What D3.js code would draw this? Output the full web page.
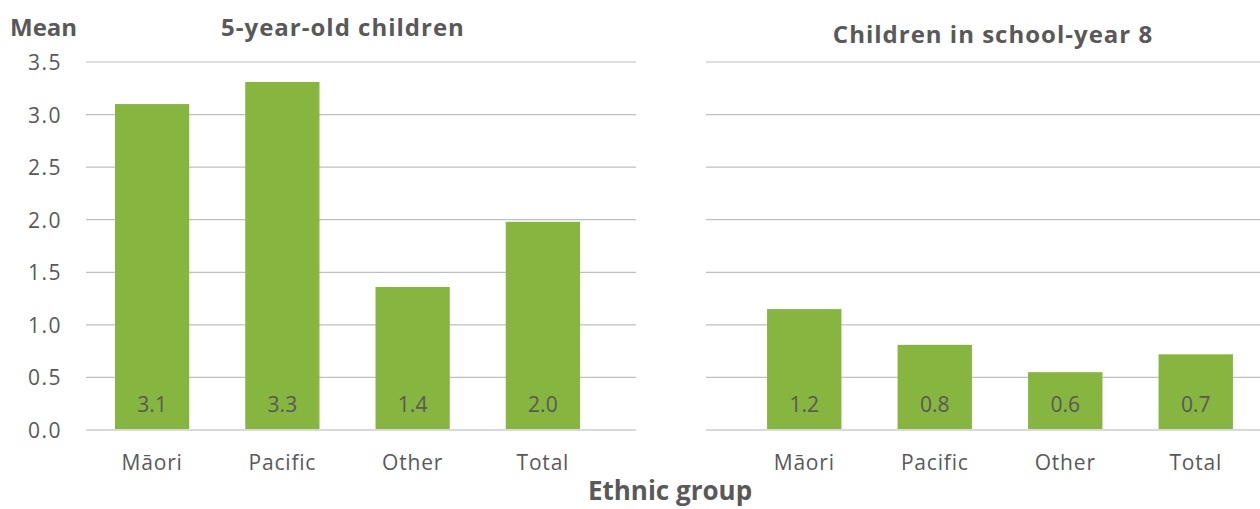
<!DOCTYPE html>
<html><head><meta charset="utf-8">
<script src="https://cdn.jsdelivr.net/npm/d3@7"></script>
<style>body{margin:0;background:#fff}text{font-family:"Open Sans","Noto Sans",sans-serif;fill:#595959}</style>
</head><body><svg id="c" width="1260" height="509"></svg>
<script>
const categories = ["Māori","Pacific","Other","Total"];
const fiveYearValues = [3.10, 3.31, 1.36, 1.98];
const fiveYearLabels = ["3.1","3.3","1.4","2.0"];
const year8Values = [1.15, 0.81, 0.55, 0.72];
const year8Labels = ["1.2","0.8","0.6","0.7"];
const yTicks = [0,0.5,1,1.5,2,2.5,3,3.5];
const panelTitles = ["5-year-old children","Children in school-year 8"];

const svg = d3.select("#c");
const y = d3.scaleLinear().domain([0,3.5]).range([430,62]);
const green = "#86b540";

const panels = [
  {values: fiveYearValues, labels: fiveYearLabels, gx:[86,636], band:[87,608], title: panelTitles[0], tx:343, ty:26, axis:true},
  {values: year8Values, labels: year8Labels, gx:[706,1260], band:[739,1261], title: panelTitles[1], tx:993, ty:33, axis:false}
];

panels.forEach(p => {
  const g = svg.append("g");
  const x = d3.scaleBand().domain(categories).range(p.band).paddingInner(0.43).paddingOuter(0.215);
  g.selectAll("line.grid").data(yTicks.filter(t=>t>0)).join("line")
    .attr("x1",p.gx[0]).attr("x2",p.gx[1]).attr("y1",d=>y(d)).attr("y2",d=>y(d))
    .attr("stroke","#bfbfbf").attr("stroke-width",1.2);
  g.selectAll("rect").data(p.values).join("rect")
    .attr("x",(d,i)=>x(categories[i])).attr("width",x.bandwidth())
    .attr("y",d=>y(d)).attr("height",d=>y(0)-y(d)).attr("fill",green);
  g.append("line").attr("x1",p.gx[0]).attr("x2",p.gx[1]).attr("y1",y(0)).attr("y2",y(0))
    .attr("stroke","#d9d9d9").attr("stroke-width",2);
  g.selectAll("text.val").data(p.labels).join("text")
    .attr("x",(d,i)=>x(categories[i])+x.bandwidth()/2).attr("y",404)
    .attr("dominant-baseline","central")
    .attr("text-anchor","middle").style("font-size","21px").text(d=>d);
  g.selectAll("text.cat").data(categories).join("text")
    .attr("x",d=>x(d)+x.bandwidth()/2).attr("y",462)
    .attr("dominant-baseline","central")
    .attr("text-anchor","middle").style("font-size","21px").style("letter-spacing","0.8px").text(d=>d);
  g.append("text").attr("x",p.tx).attr("y",p.ty).attr("text-anchor","middle")
    .attr("dominant-baseline","central").style("font-size","24px").style("letter-spacing","1px")
    .style("font-weight","bold").text(p.title);
  if (p.axis) {
    g.selectAll("text.tick").data(yTicks).join("text")
      .attr("x",62).attr("y",d=>y(d)).attr("dominant-baseline","central")
      .attr("text-anchor","end").style("font-size","21px").style("letter-spacing","1.5px").text(d=>d.toFixed(1));
  }
});
svg.append("text").attr("x",10).attr("y",26).attr("dominant-baseline","central")
  .style("font-size","24px").style("font-weight","bold").text("Mean");
svg.append("text").attr("x",670).attr("y",490).attr("dominant-baseline","central").attr("text-anchor","middle")
  .style("font-size","26px").style("font-weight","bold").text("Ethnic group");
</script></body></html>
